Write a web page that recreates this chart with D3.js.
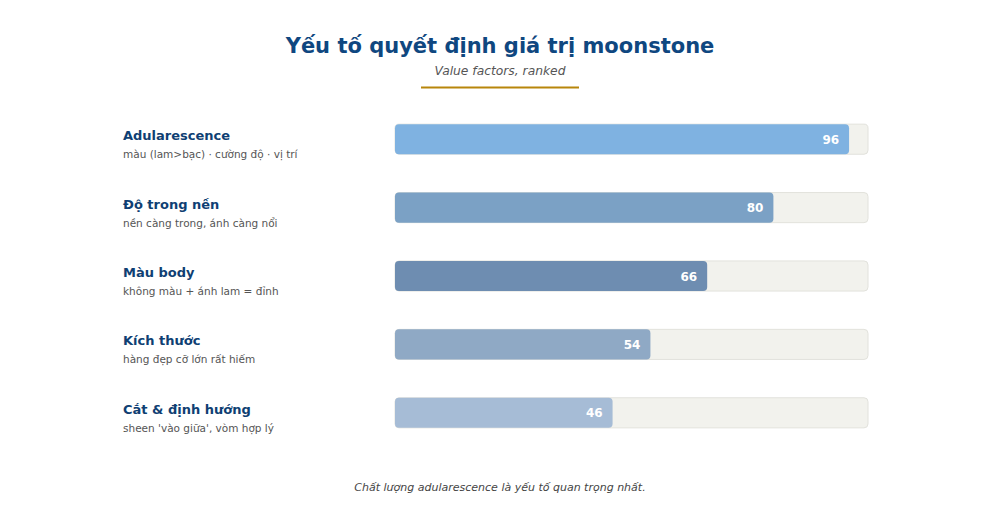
<!DOCTYPE html>
<html>
<head>
<meta charset="utf-8">
<script src="https://cdn.jsdelivr.net/npm/d3@7"></script>
<style>
  body { margin: 0; background: #fff; }
  svg text { font-family: "DejaVu Sans", sans-serif; }
</style>
</head>
<body>
<div id="chart"></div>
<script>
var width = 1000
var height = 526

// data
const factors = ["Adularescence", "Độ trong nền", "Màu body", "Kích thước", "Cắt & định hướng"];
const notes = ["màu (lam>bạc) · cường độ · vị trí", "nền càng trong, ánh càng nổi", "không màu + ánh lam = đỉnh", "hàng đẹp cỡ lớn rất hiếm", "sheen 'vào giữa', vòm hợp lý"];
const scores = [96, 80, 66, 54, 46];
const barColors = ["#7fb2e1", "#7ba1c5", "#6e8db1", "#8fa9c5", "#a6bcd6"];

const title = "Yếu tố quyết định giá trị moonstone";
const subtitle = "Value factors, ranked";
const footnote = "Chất lượng adularescence là yếu tố quan trọng nhất.";

const svg = d3.select("#chart").append("svg")
    .attr("width", width)
    .attr("height", height)

const xScale = d3.scaleLinear()
    .domain([0, 100])
    .range([395, 868]);

const yScale = d3.scaleBand()
    .domain(factors)
    .range([105, 447])
    .paddingInner(0.56)
    .paddingOuter(0.28);

// title block
svg.append("text")
    .attr("x", width / 2)
    .attr("y", 53)
    .attr("text-anchor", "middle")
    .attr("font-size", 21)
    .attr("font-weight", "bold")
    .attr("fill", "#0f4780")
    .text(title);

svg.append("text")
    .attr("x", width / 2)
    .attr("y", 75)
    .attr("text-anchor", "middle")
    .attr("font-size", 12.3)
    .attr("font-style", "italic")
    .attr("fill", "#555")
    .text(subtitle);

svg.append("rect")
    .attr("x", 421)
    .attr("y", 86.5)
    .attr("width", 158)
    .attr("height", 2)
    .attr("fill", "#b8860b");

const rows = svg.selectAll("g.row").data(factors)
    .enter().append("g")
    .attr("class", "row");

// left labels
rows.append("text")
    .attr("x", 123)
    .attr("y", d => yScale(d) + 16)
    .attr("font-size", 13)
    .attr("font-weight", "bold")
    .attr("fill", "#0f3f73")
    .text(d => d);

rows.append("text")
    .attr("x", 123)
    .attr("y", (d, i) => yScale(factors[i]) + 34)
    .attr("font-size", 10.5)
    .attr("fill", "#555")
    .text((d, i) => notes[i]);

// track
rows.append("rect")
    .attr("x", xScale(0))
    .attr("y", d => yScale(d))
    .attr("width", xScale(100) - xScale(0))
    .attr("height", yScale.bandwidth())
    .attr("rx", 4)
    .attr("fill", "#f2f2ed")
    .attr("stroke", "#e2e2dc")
    .attr("stroke-width", 1);

// value bars
rows.append("rect")
    .attr("x", xScale(0))
    .attr("y", d => yScale(d))
    .attr("width", (d, i) => xScale(scores[i]) - xScale(0))
    .attr("height", yScale.bandwidth())
    .attr("rx", 4)
    .attr("fill", (d, i) => barColors[i]);

rows.append("text")
    .attr("x", (d, i) => xScale(scores[i]) - 10)
    .attr("y", d => yScale(d) + yScale.bandwidth() / 2 + 4.5)
    .attr("text-anchor", "end")
    .attr("font-size", 12)
    .attr("font-weight", "bold")
    .attr("fill", "#fff")
    .text((d, i) => scores[i]);

svg.append("text")
    .attr("x", width / 2)
    .attr("y", 491)
    .attr("text-anchor", "middle")
    .attr("font-size", 11)
    .attr("font-style", "italic")
    .attr("fill", "#444")
    .text(footnote);
</script>
</body>
</html>
